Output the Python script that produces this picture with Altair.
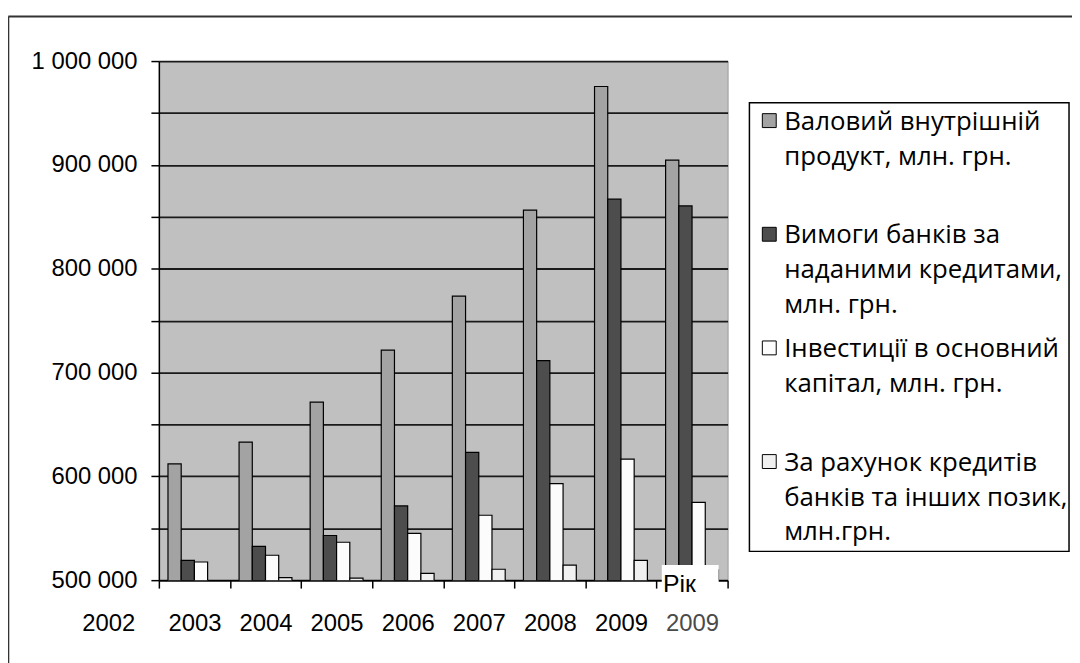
import altair as alt
import pandas as pd

# ---- data ----
groups = ["2003", "2004", "2005", "2006", "2007", "2008", "2009", "2009"]
series = [
    "Валовий внутрішній продукт, млн. грн.",
    "Вимоги банків за наданими кредитами, млн. грн.",
    "Інвестиції в основний капітал, млн. грн.",
    "За рахунок кредитів банків та інших позик, млн.грн.",
]
legend_lines = [
    "Валовий внутрішній\nпродукт, млн. грн.",
    "Вимоги банків за\nнаданими кредитами,\nмлн. грн.",
    "Інвестиції в основний\nкапітал, млн. грн.",
    "За рахунок кредитів\nбанків та інших позик,\nмлн.грн.",
]
gdp = [612000, 633000, 671500, 721500, 773500, 856500, 975500, 904500]
credits = [519000, 532500, 543000, 571500, 623000, 711500, 867000, 860500]
invest = [517500, 524000, 536500, 545000, 562500, 593000, 616500, 575000]
loans = [498000, 502500, 502000, 506500, 510500, 514500, 519000, 510000]
colors = ["#a3a3a3", "#4d4d4d", "#fcfcfc", "#f0f0f0"]

keys = [f"{i}:{g}" for i, g in enumerate(groups)]
rows = []
for s, vals in zip(series, [gdp, credits, invest, loans]):
    for k, v in zip(keys, vals):
        rows.append({"group": k, "series": s, "value": v})
df = pd.DataFrame(rows)

leg_df = pd.DataFrame({"i": list(range(4)), "label": legend_lines, "fill": colors})

W, H = 573, 523
SANS = "Liberation Sans, Arial, sans-serif"
LEGF = "Open Sans, Liberation Sans, Arial, sans-serif"
AX = 24

last_key = keys[-1]

bars = alt.Chart(df).mark_bar(stroke="black", strokeWidth=1.2, clip=True).encode(
    x=alt.X(
        "group:N",
        sort=keys,
        scale=alt.Scale(paddingInner=0, paddingOuter=0),
        axis=alt.Axis(
            title=None,
            labelExpr="split(datum.value, ':')[1]",
            labelFont=SANS,
            labelFontSize=AX,
            labelColor={"condition": {"test": f"datum.value === '{last_key}'", "value": "#4a4a4a"}, "value": "black"},
            labelBaseline="alphabetic",
            labelPadding=43,
            labelAngle=0,
            tickBand="extent",
            tickSize=8,
            tickColor="black",
            tickWidth=1.5,
            domainColor="black",
            domainWidth=1.5,
            grid=False,
        ),
    ),
    xOffset=alt.XOffset("series:N", sort=series, scale=alt.Scale(paddingInner=0, paddingOuter=0.69)),
    y=alt.Y(
        "value:Q",
        scale=alt.Scale(domain=[500000, 1000000], zero=False, nice=False),
        axis=alt.Axis(
            title=None,
            values=list(range(500000, 1000001, 50000)),
            labelExpr="datum.value % 100000 == 0 ? replace(replace(format(datum.value, ','), ',', ' '), ',', ' ') : ''",
            labelFont=SANS,
            labelFontSize=AX,
            labelColor="black",
            labelPadding=14,
            tickSize=8,
            tickColor="black",
            tickWidth=1.5,
            domainColor="black",
            domainWidth=1.5,
            grid=True,
            gridColor="#1a1a1a",
            gridWidth=1.8,
        ),
    ),
    color=alt.Color("series:N", sort=series, scale=alt.Scale(domain=series, range=colors), legend=None),
)

# stray "2002" label at left of the axis row
lbl2002 = alt.Chart(pd.DataFrame({"t": ["2002"]})).mark_text(
    font=SANS, fontSize=AX, align="center", baseline="alphabetic", color="black"
).encode(x=alt.value(-50.5), y=alt.value(H + 51), text="t:N")

# "Рік" box
rik_box = alt.Chart(pd.DataFrame({"a": [1]})).mark_rect(fill="white", stroke=None).encode(
    x=alt.value(506.7), x2=alt.value(564), y=alt.value(507.7), y2=alt.value(541)
)
rik_txt = alt.Chart(pd.DataFrame({"t": ["Рік"]})).mark_text(
    font=SANS, fontSize=25, align="left", baseline="alphabetic", color="black"
).encode(x=alt.value(508), y=alt.value(535.3), text="t:N")

# outer frame (top and left)
frame_top = alt.Chart(pd.DataFrame({"a": [1]})).mark_rule(color="#333", strokeWidth=2).encode(
    x=alt.value(-151.7), x2=alt.value(925), y=alt.value(-45)
)
frame_left = alt.Chart(pd.DataFrame({"a": [1]})).mark_rule(color="#333", strokeWidth=2).encode(
    x=alt.value(-151.7), y=alt.value(-45), y2=alt.value(610)
)

# legend
leg_box = alt.Chart(pd.DataFrame({"a": [1]})).mark_rect(fill="white", stroke="black", strokeWidth=1.5).encode(
    x=alt.value(595), x2=alt.value(917), y=alt.value(42), y2=alt.value(494)
)
leg_base = alt.Chart(leg_df).transform_calculate(
    py="60 + datum.i * 114.5",
    ty="60 + datum.i * 114.5 + 9.3",
    lines="split(datum.label, '\\n')",
)
leg_sym = leg_base.mark_square(size=196, stroke="black", strokeWidth=1, opacity=1).encode(
    x=alt.value(615),
    y=alt.Y("py:Q", scale=None),
    fill=alt.Fill("fill:N", scale=None),
)
leg_txt = leg_base.mark_text(
    font=LEGF, fontSize=26, align="left", baseline="alphabetic", lineHeight=35, color="black"
).encode(
    x=alt.value(630),
    y=alt.Y("ty:Q", scale=None),
    text="lines:N",
)

chart = alt.layer(
    bars, lbl2002, rik_box, rik_txt, frame_top, frame_left, leg_box, leg_sym, leg_txt
).properties(
    width=W,
    height=H,
    autosize=alt.AutoSizeParams(type="none"),
    padding={"left": 152, "top": 51, "right": 347, "bottom": 81},
    background="white",
).configure_view(fill="#c0c0c0", stroke="#999999", strokeWidth=1)

chart.save("out.html", embed_options={"renderer": "svg", "actions": False})
